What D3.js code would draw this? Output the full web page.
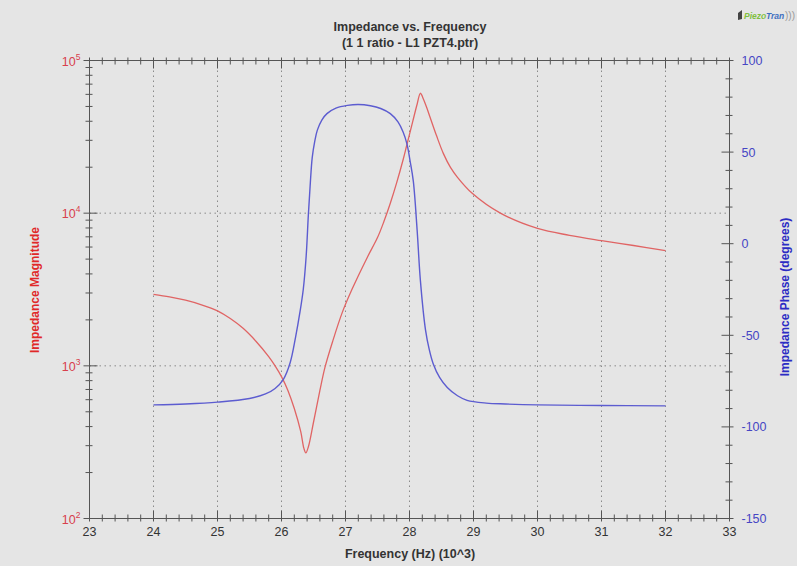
<!DOCTYPE html>
<html><head><meta charset="utf-8">
<script src="https://cdn.jsdelivr.net/npm/d3@7"></script>
<style>
html,body{margin:0;padding:0;background:#e5e5e5;}
svg{display:block;font-family:"Liberation Sans",Arial,sans-serif;}
</style></head>
<body>
<svg id="c" width="797" height="566"></svg>
<script>
// ---- data ----
const titleLines = ["Impedance vs. Frequency", "(1 1 ratio - L1 PZT4.ptr)"];
const xTicks = [23,24,25,26,27,28,29,30,31,32,33];
const leftTicks = [100,1000,10000,100000];
const rightTicks = [100,50,0,-50,-100,-150];

const magFreq = [24.0,24.25,24.5,24.75,25.0,25.2,25.4,25.6,25.8,25.9,26.0,26.1,26.2,26.3,26.35,26.38,26.42,26.5,26.6,26.68,26.8,26.95,27.1,27.34,27.5,27.6,27.7,27.8,27.9,27.96,28.05,28.12,28.17,28.22,28.27,28.32,28.42,28.53,28.64,28.75,28.98,29.42,30.0,30.5,31.0,31.5,32.0];
const magnitude = [2940,2830,2690,2510,2290,2040,1760,1450,1150,1000,850,690,525,372,288,269,295,427,690,980,1450,2240,3160,5130,6920,8810,11610,15850,22390,28180,39810,51880,61000,55590,48980,42660,32360,24550,19950,17180,13490,10000,7940,7160,6610,6140,5690];

const phaseFreq = [24.0,24.5,25.0,25.5,25.75,25.9,26.03,26.135,26.22,26.29,26.34,26.385,26.42,26.45,26.48,26.52,26.56,26.63,26.71,26.85,27.03,27.2,27.39,27.55,27.7,27.82,27.9,27.96,28.01,28.06,28.12,28.17,28.25,28.31,28.37,28.47,28.59,28.75,28.9,29.2,29.5,30.0,31.0,32.0];
const phase = [-88,-87.5,-86.5,-84.5,-82,-79,-74,-65,-51,-37,-25,-7,16,33,47,56,62,67.5,71,74,75.5,76,75.3,73.8,71,66.5,61,54.5,45,34,7,-20,-47,-58,-65.5,-73,-78.5,-83,-85.5,-87,-87.5,-88,-88.3,-88.5];

// ---- layout ----
const L = 89.5, R = 729.5, T = 60.5, B = 518.5;
const svg = d3.select("#c");
const x = d3.scaleLinear().domain([23,33]).range([L,R]);
const yL = d3.scaleLog().domain([100,100000]).range([B,T]);
const yR = d3.scaleLinear().domain([-150,100]).range([B,T]);
const axisCol = "#555";

// grid
const g = svg.append("g");
g.selectAll("line.vg").data(xTicks.slice(1,-1)).join("line")
  .attr("x1",d=>x(d)).attr("x2",d=>x(d)).attr("y1",T).attr("y2",B)
  .attr("stroke","#8a8a8a").attr("stroke-width",1).attr("stroke-dasharray","1.5,3.5");
g.selectAll("line.hg").data(leftTicks.slice(1,-1)).join("line")
  .attr("y1",d=>yL(d)).attr("y2",d=>yL(d)).attr("x1",L).attr("x2",R)
  .attr("stroke","#8a8a8a").attr("stroke-width",1).attr("stroke-dasharray","1.5,3.5");

// curves
const magLine = d3.line().x((d,i)=>x(magFreq[i])).y(d=>yL(d)).curve(d3.curveCatmullRom.alpha(0.5));
svg.append("path").attr("d",magLine(magnitude)).attr("fill","none")
  .attr("stroke","#e06464").attr("stroke-width",1.3);
const phLine = d3.line().x((d,i)=>x(phaseFreq[i])).y(d=>yR(d)).curve(d3.curveCatmullRom.alpha(0.5));
svg.append("path").attr("d",phLine(phase)).attr("fill","none")
  .attr("stroke","#5c5cd0").attr("stroke-width",1.4);

// frame
const f = svg.append("g").attr("stroke",axisCol).attr("stroke-width",1).attr("fill","none");
f.append("line").attr("x1",L).attr("x2",R).attr("y1",B).attr("y2",B);
f.append("line").attr("x1",L).attr("x2",R).attr("y1",T).attr("y2",T);
f.append("line").attr("x1",L).attr("x2",L).attr("y1",T).attr("y2",B);
f.append("line").attr("x1",R).attr("x2",R).attr("y1",T).attr("y2",B);

// x ticks (bottom and top)
const xMinor = d3.range(23,33.001,0.2).filter(v=>Math.abs(v-Math.round(v))>0.01);
f.selectAll("line.xb").data(xTicks).join("line")
  .attr("x1",d=>x(d)).attr("x2",d=>x(d)).attr("y1",B-8).attr("y2",B+3);
f.selectAll("line.xbm").data(xMinor).join("line")
  .attr("x1",d=>x(d)).attr("x2",d=>x(d)).attr("y1",B-4).attr("y2",B+3);
f.selectAll("line.xt").data(xTicks).join("line")
  .attr("x1",d=>x(d)).attr("x2",d=>x(d)).attr("y1",T-3).attr("y2",T+8);
f.selectAll("line.xtm").data(xMinor).join("line")
  .attr("x1",d=>x(d)).attr("x2",d=>x(d)).attr("y1",T-3).attr("y2",T+4);

// left log ticks
const lMinor = [];
[100,1000,10000].forEach(dec=>{for(let k=2;k<=9;k++) lMinor.push(dec*k);});
f.selectAll("line.lm").data(leftTicks).join("line")
  .attr("y1",d=>yL(d)).attr("y2",d=>yL(d)).attr("x1",L-6).attr("x2",L+8);
f.selectAll("line.lmi").data(lMinor).join("line")
  .attr("y1",d=>yL(d)).attr("y2",d=>yL(d)).attr("x1",L-4).attr("x2",L+3);

// right ticks
const rMinor = d3.range(-150,100.1,10).filter(v=>v%50!==0);
f.selectAll("line.rm").data(rightTicks).join("line")
  .attr("y1",d=>yR(d)).attr("y2",d=>yR(d)).attr("x1",R-8).attr("x2",R+4);
f.selectAll("line.rmi").data(rMinor).join("line")
  .attr("y1",d=>yR(d)).attr("y2",d=>yR(d)).attr("x1",R-4).attr("x2",R+3);

// x labels
svg.append("g").selectAll("text").data(xTicks).join("text")
  .attr("x",d=>x(d)).attr("y",B+17).attr("text-anchor","middle")
  .attr("font-size",12.5).attr("fill","#333").text(d=>d);

// left labels 10^n
const ll = svg.append("g").selectAll("text").data(leftTicks).join("text")
  .attr("x",L-9).attr("y",d=>yL(d)+5).attr("text-anchor","end")
  .attr("font-size",12.5).attr("fill","#d8404c");
ll.append("tspan").text("10");
ll.append("tspan").attr("dy",-6).attr("font-size",8.5).text(d=>Math.round(Math.log10(d)));

// right labels
svg.append("g").selectAll("text").data(rightTicks).join("text")
  .attr("x",R+12).attr("y",d=>yR(d)+4.5).attr("text-anchor","start")
  .attr("font-size",12.5).attr("fill","#4646c4").text(d=>d);

// titles
svg.append("text").attr("x",410).attr("y",31).attr("text-anchor","middle")
  .attr("font-size",12.5).attr("font-weight","bold").attr("fill","#333").text(titleLines[0]);
svg.append("text").attr("x",410).attr("y",47).attr("text-anchor","middle")
  .attr("font-size",12.5).attr("font-weight","bold").attr("fill","#333").text(titleLines[1]);

svg.append("text").attr("x",410).attr("y",558).attr("text-anchor","middle")
  .attr("font-size",12.5).attr("font-weight","bold").attr("fill","#333").text("Frequency (Hz) (10^3)");

svg.append("text").attr("transform","translate(39,290) rotate(-90)").attr("text-anchor","middle")
  .attr("font-size",12).attr("font-weight","bold").attr("fill","#e02828").text("Impedance Magnitude");
svg.append("text").attr("transform","translate(789,297) rotate(-90)").attr("text-anchor","middle")
  .attr("font-size",12).attr("font-weight","bold").attr("fill","#2c2cc4").text("Impedance Phase (degrees)");

// logo
const lg = svg.append("g");
lg.append("path").attr("d","M738,13 l4,-3 l0,9 l-4,1 z").attr("fill","#444");
lg.append("text").attr("x",744).attr("y",19).attr("font-size",8.5).attr("font-weight","bold")
  .attr("font-style","italic").attr("fill","#7fbf3f").text("Piezo");
lg.append("text").attr("x",766).attr("y",19).attr("font-size",8.5).attr("font-weight","bold")
  .attr("font-style","italic").attr("fill","#3f6fbf").text("Tran");
lg.append("text").attr("x",785).attr("y",19).attr("font-size",10).attr("fill","#999").text(")))");
</script>
</body></html>
